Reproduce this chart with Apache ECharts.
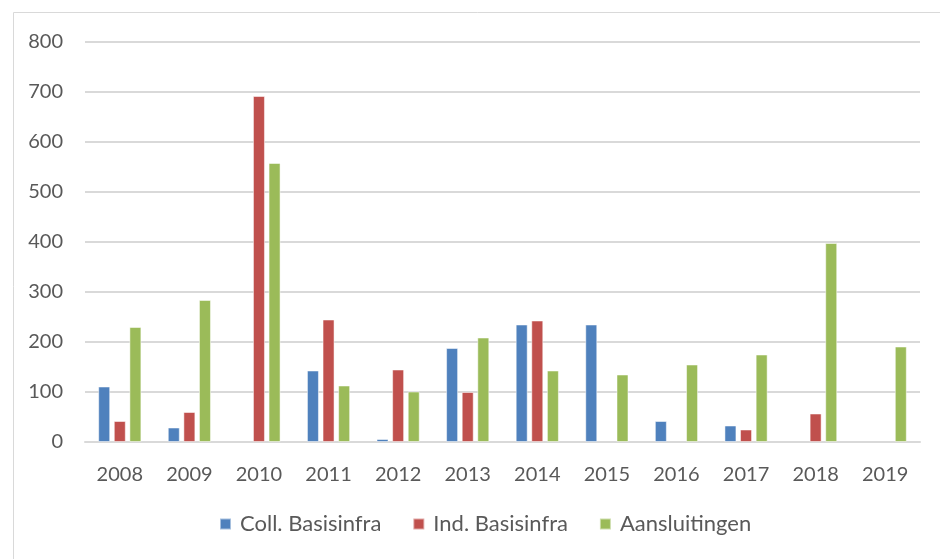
<!DOCTYPE html>
<html><head><meta charset="utf-8">
<script src="https://cdn.jsdelivr.net/npm/echarts@6/dist/echarts.min.js"></script>
<style>html,body{margin:0;padding:0;background:#fff}#c{width:940px;height:559px}</style>
</head><body><div id="c"></div>
<script>
const categories = ['2008','2009','2010','2011','2012','2013','2014','2015','2016','2017','2018','2019'];
const collBasisinfra = [111, 29, null, 143, 6, 188, 235, 235, 42, 33, null, null];
const indBasisinfra = [42, 60, 692, 245, 145, 100, 243, null, null, 25, 57, null];
const aansluitingen = [230, 284, 558, 113, 101, 209, 143, 135, 155, 175, 398, 191];
const seriesNames = ['Coll. Basisinfra', 'Ind. Basisinfra', 'Aansluitingen'];
const colors = ['#4F81BD', '#C0504D', '#9BBB59'];

const chart = echarts.init(document.getElementById('c'));
const font = 'Lato, "Open Sans", sans-serif';
const mk = (name, data, i) => ({
  name, type: 'bar', data, barWidth: 12, barGap: '30%',
  itemStyle: { color: colors[i], borderColor: 'rgba(255,255,255,0.5)', borderWidth: 1 }
});
chart.setOption({
  animation: false,
  textStyle: { fontFamily: font },
  graphic: [{ type: 'rect', shape: { x: 13.5, y: 12.5, width: 960, height: 600 },
    style: { fill: 'none', stroke: '#d9d9d9', lineWidth: 1 } }],
  grid: { left: 85, right: 20, top: 42, bottom: 117 },
  legend: {
    bottom: 19, left: 214, itemWidth: 11, itemHeight: 11, itemGap: 31,
    icon: 'rect',
    textStyle: { fontSize: 22, color: '#595959', fontFamily: font, padding: [0, 0, 0, 4] },
    data: seriesNames
  },
  xAxis: {
    type: 'category', data: categories,
    axisLine: { lineStyle: { color: '#d9d9d9', width: 2 } },
    axisTick: { show: false },
    axisLabel: { fontSize: 20, color: '#595959', margin: 23 }
  },
  yAxis: {
    type: 'value', min: 0, max: 800, interval: 100,
    axisLine: { show: false }, axisTick: { show: false },
    splitLine: { lineStyle: { color: '#d9d9d9', width: 2 } },
    axisLabel: { fontSize: 20, color: '#595959', margin: 22 }
  },
  series: [mk(seriesNames[0], collBasisinfra, 0), mk(seriesNames[1], indBasisinfra, 1), mk(seriesNames[2], aansluitingen, 2)]
});
</script></body></html>
